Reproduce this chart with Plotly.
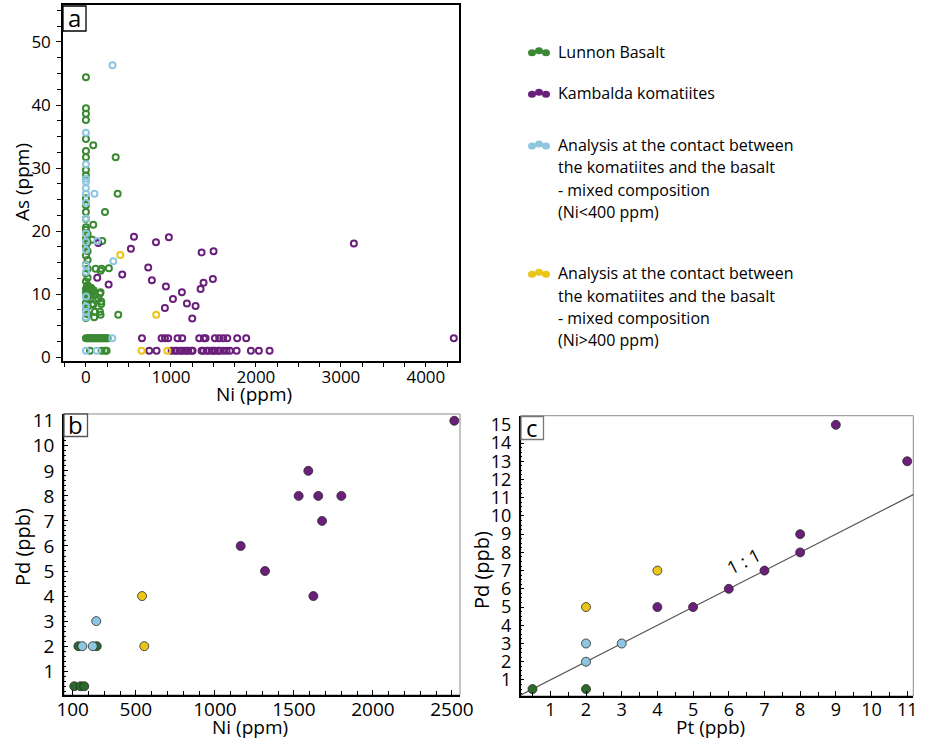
import plotly.graph_objects as go

W, H = 925, 742
FONT = "Open Sans"

GREEN = "#3b8a33"
GREEN_DARK = "#2c6a2a"
PURPLE = "#6a1f7b"
BLUE = "#8ec6df"
YELLOW = "#eac51a"

# ---------------- Panel a: As vs Ni ----------------
basalt_ni = [0, 0, 0, 0, 0, 0, 0, 0, 0, 0, 0, 0, 0, 0,
             0, 20, 0, 20, 0, 20, 0, 20, 0, 20, 0, 20, 0, 20, 0, 20, 0, 20, 0, 20, 0, 20, 0, 20, 0,
             20, 40, 60, 80, 30, 50, 70, 90, 10, 45, 60, 35,
             86, 350, 373, 224, 86, 74, 192, 114, 185, 270, 172, 172, 145, 74, 180, 106, 172, 380, 97,
             86, 165, 180, 165, 118,
             0, 15, 30, 45, 60, 75, 90, 105, 120, 135, 150, 165, 180, 195, 210, 225, 240, 255,
             47, 184, 224, 243]
basalt_as = [44.4, 39.5, 38.6, 37.6, 34.6, 32.7, 31.7, 29.7, 28.8, 25.2, 24.1, 23.0, 21.9, 20.6,
             20.2, 19.5, 18.8, 18.2, 17.5, 16.8, 16.1, 15.4, 14.7, 14.0, 13.3, 12.6, 12.0, 11.4, 10.8,
             10.5, 10.2, 9.9, 9.6, 9.2, 8.6, 8.0, 7.4, 6.8, 6.2,
             10.6, 10.4, 10.5, 10.3, 10.0, 10.8, 10.1, 10.6, 11.2, 9.8, 11.0, 10.9,
             33.6, 31.7, 25.9, 23.0, 21.0, 18.6, 18.4, 14.0, 14.0, 14.1, 13.7, 10.3, 9.3, 8.4, 8.4, 7.2, 6.7, 6.7, 6.3,
             8.3, 10.1, 8.8, 7.2, 9.0,
             3, 3, 3, 3, 3, 3, 3, 3, 3, 3, 3, 3, 3, 3, 3, 3, 3, 3,
             1, 1, 1, 1]

komatiite_ni = [565, 824, 976, 529, 1361, 1502, 733, 427, 133, 776, 1494, 1384, 1349, 267, 941,
                1129, 1024, 1188, 1290, 929, 1251, 3153, 4329, 145,
                659, 890, 930, 968, 1078, 1133, 1333, 1388, 1408, 1518, 1568, 1616, 1663, 1780, 1886,
                745, 831, 1008, 1047, 1067, 1106, 1127, 1157, 1186, 1204, 1245, 1255, 1361, 1380,
                1420, 1439, 1478, 1498, 1518, 1557, 1569, 1616, 1655, 1694, 1773, 1941, 2035, 2161]
komatiite_as = [19.1, 18.2, 19.0, 17.2, 16.6, 16.8, 14.2, 13.1, 12.6, 12.2, 12.4, 11.8, 10.8, 11.5, 11.2,
                10.3, 9.2, 8.5, 8.1, 7.8, 6.1, 18.0, 3.0, 18.1,
                3, 3, 3, 3, 3, 3, 3, 3, 3, 3, 3, 3, 3, 3, 3,
                1, 1, 1, 1, 1, 1, 1, 1, 1, 1, 1, 1, 1, 1,
                1, 1, 1, 1, 1, 1, 1, 1, 1, 1, 1, 1, 1, 1]

contact_low_ni = [313, 0, 0, 0, 0, 0, 0, 0, 0, 0, 0, 0, 0, 0, 0, 0, 0, 0,
                  100, 133, 322, 310, 0, 126]
contact_low_as = [46.3, 35.6, 30.6, 27.8, 26.8, 25.9, 24.5, 22.0, 19.6, 18.3, 17.0, 14.6, 13.5,
                  9.6, 8.0, 7.2, 6.3, 28.3,
                  25.9, 18.4, 15.2, 3, 1, 1]

contact_high_ni = [404, 827, 655, 957]
contact_high_as = [16.2, 6.7, 1, 1]

# ---------------- Panel b: Pd vs Ni ----------------
b_basalt_ni = [110, 150, 173, 136, 252]
b_basalt_pd = [0.4, 0.4, 0.4, 2, 2]
b_low_ni = [161, 227, 249]
b_low_pd = [2, 2, 3]
b_high_ni = [539, 553]
b_high_pd = [4, 2]
b_kom_ni = [1163, 1317, 1530, 1591, 1654, 1678, 1623, 1800, 2515]
b_kom_pd = [6, 5, 8, 9, 8, 7, 4, 8, 11]
b_xticks = [100, 500, 1000, 1500, 2000, 2500]

# ---------------- Panel c: Pd vs Pt ----------------
c_basalt_pt = [0.5, 2]
c_basalt_pd = [0.5, 0.5]
c_low_pt = [2, 2, 3]
c_low_pd = [3, 2, 3]
c_high_pt = [2, 4]
c_high_pd = [5, 7]
c_kom_pt = [4, 5, 6, 7, 8, 8, 9, 11]
c_kom_pd = [5, 5, 6, 7, 8, 9, 15, 13]
one_to_one = [0, 12]

legend_entries = [
    (GREEN, ["Lunnon Basalt"]),
    (PURPLE, ["Kambalda komatiites"]),
    (BLUE, ["Analysis at the contact between", "the komatiites and the basalt",
            "- mixed composition", "(Ni<400 ppm)"]),
    (YELLOW, ["Analysis at the contact between", "the komatiites and the basalt",
              "- mixed composition", "(Ni>400 ppm)"]),
]


def px(x):
    return x / W


def py(y):
    return 1 - y / H


fig = go.Figure()


def open_pts(x, y, color):
    fig.add_trace(go.Scatter(x=x, y=y, mode="markers", xaxis="x", yaxis="y",
                             marker=dict(symbol="circle-open", size=6, color=color,
                                         line=dict(width=2, color=color)),
                             showlegend=False, hoverinfo="x+y"))


def filled_pts(x, y, color, xa, ya):
    fig.add_trace(go.Scatter(x=x, y=y, mode="markers", xaxis=xa, yaxis=ya,
                             marker=dict(symbol="circle", size=9, color=color,
                                         line=dict(width=0.8, color="#2a2a2a")),
                             showlegend=False, hoverinfo="x+y"))


open_pts(basalt_ni, basalt_as, GREEN)
open_pts(komatiite_ni, komatiite_as, PURPLE)
open_pts(contact_low_ni, contact_low_as, BLUE)
open_pts(contact_high_ni, contact_high_as, YELLOW)

filled_pts(b_basalt_ni, b_basalt_pd, GREEN_DARK, "x2", "y2")
filled_pts(b_low_ni, b_low_pd, BLUE, "x2", "y2")
filled_pts(b_high_ni, b_high_pd, YELLOW, "x2", "y2")
filled_pts(b_kom_ni, b_kom_pd, PURPLE, "x2", "y2")

fig.add_trace(go.Scatter(x=one_to_one, y=one_to_one, mode="lines", xaxis="x3", yaxis="y3",
                         line=dict(color="#555555", width=1.2), showlegend=False, hoverinfo="skip"))
filled_pts(c_basalt_pt, c_basalt_pd, GREEN_DARK, "x3", "y3")
filled_pts(c_low_pt, c_low_pd, BLUE, "x3", "y3")
filled_pts(c_high_pt, c_high_pd, YELLOW, "x3", "y3")
filled_pts(c_kom_pt, c_kom_pd, PURPLE, "x3", "y3")

tickfont_a = dict(family=FONT, size=17, color="black")
tickfont_bc = dict(family=FONT, size=19, color="black")

common = dict(showgrid=False, zeroline=False, showline=True, linecolor="black",
              linewidth=1.5, tickcolor="black", tickwidth=1, automargin=False)

fig.update_layout(
    width=W, height=H, margin=dict(l=0, r=0, t=0, b=0, autoexpand=False),
    paper_bgcolor="white", plot_bgcolor="white",
    font=dict(family=FONT, color="black"),
    xaxis=dict(domain=[px(63), px(459)], anchor="y", range=[-270, 4390],
               tick0=0, dtick=1000, ticks="outside", ticklen=4, mirror=True,
               minor=dict(dtick=250, tick0=0, ticks="outside", ticklen=4, tickcolor="black"),
               tickfont=tickfont_a, ticklabelstandoff=-4, **common),
    yaxis=dict(domain=[py(361), py(5)], anchor="x", range=[-0.63, 55.87],
               tick0=0, dtick=10, ticks="outside", ticklen=5, mirror=True,
               minor=dict(dtick=2.5, tick0=0, ticks="outside", ticklen=4, tickcolor="black"),
               tickfont=tickfont_a, ticklabelstandoff=2, **common),
    xaxis2=dict(domain=[px(64), px(460)], anchor="y2", range=[45, 2551],
                tickmode="array", tickvals=b_xticks, ticks="inside", ticklen=5,
                minor=dict(tickmode="linear", dtick=100, tick0=0, ticks="inside", ticklen=4,
                           tickcolor="black"),
                tickfont=tickfont_bc, ticklabelstandoff=-4, **common),
    yaxis2=dict(domain=[py(695), py(414)], anchor="x2", range=[0.05, 11.27],
                tick0=0, dtick=1, ticks="inside", ticklen=4,
                minor=dict(dtick=0.2, tick0=0, ticks="inside", ticklen=2, tickcolor="black"),
                tickfont=tickfont_bc, ticklabelstandoff=4, **common),
    xaxis3=dict(domain=[px(520.7), px(913.3)], anchor="y3", range=[0.17, 11.17],
                tick0=0, dtick=1, ticks="inside", ticklen=5,
                minor=dict(dtick=0.5, tick0=0, ticks="inside", ticklen=4, tickcolor="black"),
                tickfont=dict(family=FONT, size=18, color="black"), ticklabelstandoff=-3, **common),
    yaxis3=dict(domain=[py(696), py(415.7)], anchor="x3", range=[0.12, 15.5],
                tick0=0, dtick=1, ticks="inside", ticklen=4,
                minor=dict(dtick=0.25, tick0=0, ticks="inside", ticklen=2, tickcolor="black"),
                tickfont=dict(family=FONT, size=18, color="black"), ticklabelstandoff=4, **common),
)

shapes = []
# thin grey frame around panels b and c (left/bottom axis lines are drawn on top)
for xa, ya in (("x2", "y2"), ("x3", "y3")):
    shapes.append(dict(type="rect", xref=f"{xa} domain", yref=f"{ya} domain",
                       x0=0, x1=1, y0=0, y1=1, layer="below",
                       line=dict(color="#8a8a8a", width=1)))

# panel letter boxes
boxes = [("a", 63, 86, 6, 31, "black"), ("b", 64, 87.5, 414, 436.5, "#555555"),
         ("c", 521, 543.5, 416.5, 439.5, "#777777")]
annotations = []
for letter, x0, x1, y0, y1, col in boxes:
    shapes.append(dict(type="rect", xref="paper", yref="paper", x0=px(x0), x1=px(x1),
                       y0=py(y1), y1=py(y0), line=dict(color=col, width=1.3),
                       fillcolor="white", layer="above"))
    annotations.append(dict(text=letter, xref="paper", yref="paper",
                            x=px((x0 + x1) / 2), y=py((y0 + y1) / 2 - 1),
                            xanchor="center", yanchor="middle", showarrow=False,
                            font=dict(family=FONT, size=24, color="black")))

# axis titles
titles = [("As (ppm)", 22, 182, -90, 19), ("Ni (ppm)", 254, 394, 0, 19),
          ("Pd (ppb)", 22, 547, -90, 20), ("Ni (ppm)", 250, 727, 0, 19),
          ("Pd (ppb)", 481, 570, -90, 20), ("Pt (ppb)", 710, 727, 0, 19)]
for text, x, y, ang, size in titles:
    annotations.append(dict(text=text, xref="paper", yref="paper", x=px(x), y=py(y),
                            xanchor="center", yanchor="middle", showarrow=False,
                            textangle=ang, font=dict(family=FONT, size=size, color="black")))

annotations.append(dict(text="1 : 1", xref="x3", yref="y3", x=6.41, y=7.55,
                        xanchor="center", yanchor="middle", showarrow=False, textangle=-27,
                        font=dict(family=FONT, size=18, color="black")))

# legend drawn as icons + text lines
legend_rows = [[51.7], [93.3], [145, 167, 189.5, 211.7], [273.3, 295.5, 318, 340]]
for (color, lines), ys in zip(legend_entries, legend_rows):
    yc = ys[0]
    for i, cx in enumerate((532, 539, 546)):
        dy = 1 if i % 2 == 0 else -1
        shapes.append(dict(type="circle", xref="paper", yref="paper",
                           x0=px(cx - 4), x1=px(cx + 4), y0=py(yc + dy + 3.5), y1=py(yc + dy - 3.5),
                           line=dict(width=0), fillcolor=color, layer="above"))
    for text, y in zip(lines, ys):
        annotations.append(dict(text=text, xref="paper", yref="paper", x=px(556), y=py(y),
                                xanchor="left", yanchor="middle", showarrow=False,
                                font=dict(family=FONT, size=16, color="black")))

fig.update_layout(shapes=shapes, annotations=annotations)
fig.write_html("out.html")
